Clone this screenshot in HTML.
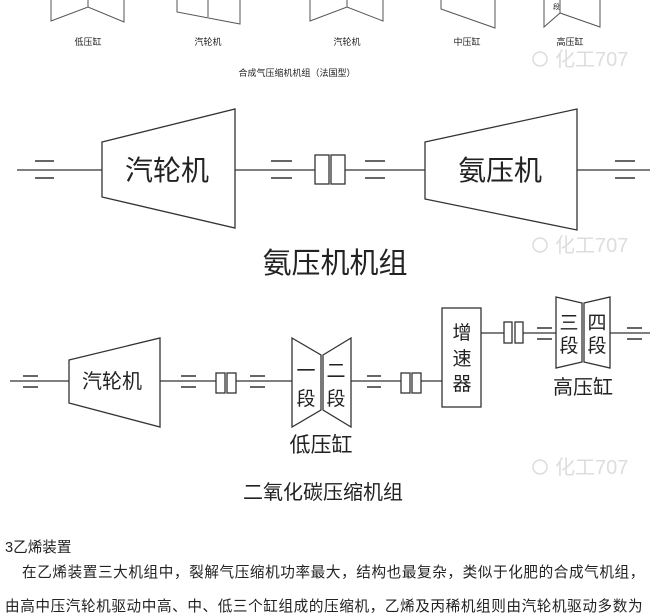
<!DOCTYPE html>
<html><head><meta charset="utf-8"><style>
html,body{margin:0;padding:0;background:#fff;width:650px;height:596px;overflow:hidden}
svg{position:absolute;left:0;top:0}
text{font-family:"Liberation Sans","Noto Sans CJK SC",sans-serif;fill:#222}
.p{position:absolute;left:0;font-family:"Liberation Sans","Noto Sans CJK SC",sans-serif;font-size:14.6px;color:#222;white-space:nowrap;letter-spacing:0.6px}
</style></head><body>
<svg width="650" height="596" viewBox="0 0 650 596" fill="none" stroke="#333" stroke-width="1.3">
<g stroke="#555" stroke-width="1">
<polyline points="51,0 51,21 88,7 124,22 124,0"/><line x1="88" y1="0" x2="88" y2="7"/>
<polyline points="177,0 177,12 240,24 240,0"/><line x1="208" y1="0" x2="208" y2="17"/>
<polyline points="310,0 310,21 347,7 383,21 383,0"/><line x1="347" y1="0" x2="347" y2="7"/>
<polyline points="441,0 441,9 495,28 495,0"/>
<polyline points="544,0 544,27 560,13 600,27 600,0"/><line x1="560" y1="0" x2="560" y2="13"/>
</g>
<g stroke="none" font-size="9">
<text x="88" y="45" text-anchor="middle">低压缸</text>
<text x="208" y="45" text-anchor="middle">汽轮机</text>
<text x="347" y="45" text-anchor="middle">汽轮机</text>
<text x="467" y="45" text-anchor="middle">中压缸</text>
<text x="570" y="45" text-anchor="middle">高压缸</text>
<text x="553" y="9" font-size="7">段</text>
<text x="297" y="76" text-anchor="middle">合成气压缩机机组（法国型）</text>
</g>
<g stroke="none" font-size="20">
<text x="555" y="66" style="fill:#ddd">化工707</text>
<text x="555" y="252" style="fill:#ddd">化工707</text>
<text x="555" y="474" style="fill:#ddd">化工707</text>
</g>
<g stroke="#ddd" stroke-width="1.5"><circle cx="540" cy="59" r="7"/><circle cx="540" cy="245" r="7"/><circle cx="540" cy="467" r="7"/></g>

<line x1="17" y1="170" x2="102" y2="170"/>
<polygon points="102,142 235,109 235,228 102,197"/>
<line x1="235" y1="170" x2="315" y2="170"/>
<rect x="315" y="155" width="14" height="29"/><rect x="331" y="155" width="14" height="29"/>
<line x1="345" y1="170" x2="425" y2="170"/>
<polygon points="425,142 577,109 577,230 425,199"/>
<line x1="577" y1="170" x2="650" y2="170"/>
<g stroke-width="1.6">
<line x1="35" y1="161" x2="54" y2="161"/><line x1="35" y1="178" x2="54" y2="178"/>
<line x1="271" y1="161" x2="292" y2="161"/><line x1="271" y1="178" x2="292" y2="178"/>
<line x1="365" y1="161" x2="385" y2="161"/><line x1="365" y1="178" x2="385" y2="178"/>
<line x1="615" y1="161" x2="635" y2="161"/><line x1="615" y1="178" x2="635" y2="178"/>
</g>
<g stroke="none" font-size="28">
<text x="167" y="180" text-anchor="middle">汽轮机</text>
<text x="500" y="180" text-anchor="middle">氨压机</text>
<text x="335" y="273" text-anchor="middle" font-size="29">氨压机机组</text>
</g>

<line x1="10" y1="381" x2="69" y2="381"/>
<polygon points="69,360 160,338 160,427 69,403"/>
<line x1="160" y1="381" x2="216" y2="381"/>
<rect x="216" y="373" width="9" height="20"/><rect x="227" y="373" width="9" height="20"/>
<line x1="236" y1="381" x2="292" y2="381"/>
<polygon points="292,338 321,355 321,410 292,427"/>
<polygon points="323,355 351,338 351,427 323,410"/>
<line x1="351" y1="381" x2="401" y2="381"/>
<rect x="401" y="373" width="9" height="20"/><rect x="412" y="373" width="9" height="20"/>
<line x1="421" y1="381" x2="442" y2="381"/>
<rect x="442" y="308" width="39" height="99"/>
<line x1="481" y1="333" x2="504" y2="333"/>
<rect x="504" y="322" width="8" height="21"/><rect x="515" y="322" width="8" height="21"/>
<line x1="523" y1="333" x2="556" y2="333"/>
<polygon points="556,297 582,303 582,362 556,368"/>
<polygon points="584,303 610,297 610,368 584,362"/>
<line x1="610" y1="333" x2="650" y2="333"/>
<g stroke-width="1.5">
<line x1="23" y1="376" x2="38" y2="376"/><line x1="23" y1="387" x2="38" y2="387"/>
<line x1="181" y1="376" x2="196" y2="376"/><line x1="181" y1="387" x2="196" y2="387"/>
<line x1="250" y1="376" x2="265" y2="376"/><line x1="250" y1="387" x2="265" y2="387"/>
<line x1="367" y1="376" x2="381" y2="376"/><line x1="367" y1="387" x2="381" y2="387"/>
<line x1="537" y1="328" x2="552" y2="328"/><line x1="537" y1="339" x2="552" y2="339"/>
<line x1="627" y1="328" x2="642" y2="328"/><line x1="627" y1="339" x2="642" y2="339"/>
</g>
<g stroke="none" font-size="19">
<text x="112" y="388" text-anchor="middle" font-size="20">汽轮机</text>
<text x="306" y="377" text-anchor="middle">一</text><text x="306" y="405" text-anchor="middle">段</text>
<text x="336" y="377" text-anchor="middle">二</text><text x="336" y="405" text-anchor="middle">段</text>
<text x="321" y="452" text-anchor="middle" font-size="21">低压缸</text>
<text x="462" y="339" text-anchor="middle">增</text>
<text x="462" y="365" text-anchor="middle">速</text>
<text x="462" y="390" text-anchor="middle">器</text>
<text x="569" y="329" text-anchor="middle">三</text><text x="569" y="352" text-anchor="middle">段</text>
<text x="597" y="329" text-anchor="middle">四</text><text x="597" y="352" text-anchor="middle">段</text>
<text x="583" y="394" text-anchor="middle" font-size="20">高压缸</text>
<text x="323" y="499" text-anchor="middle" font-size="20">二氧化碳压缩机组</text>
</g>
</svg>
<div class="p" style="top:536px;left:5px;letter-spacing:0">3乙烯装置</div>
<div class="p" style="top:561px;left:22px">在乙烯装置三大机组中，裂解气压缩机功率最大，结构也最复杂，类似于化肥的合成气机组，</div>
<div class="p" style="top:595px;left:5px">由高中压汽轮机驱动中高、中、低三个缸组成的压缩机，乙烯及丙稀机组则由汽轮机驱动多数为</div>
</body></html>
